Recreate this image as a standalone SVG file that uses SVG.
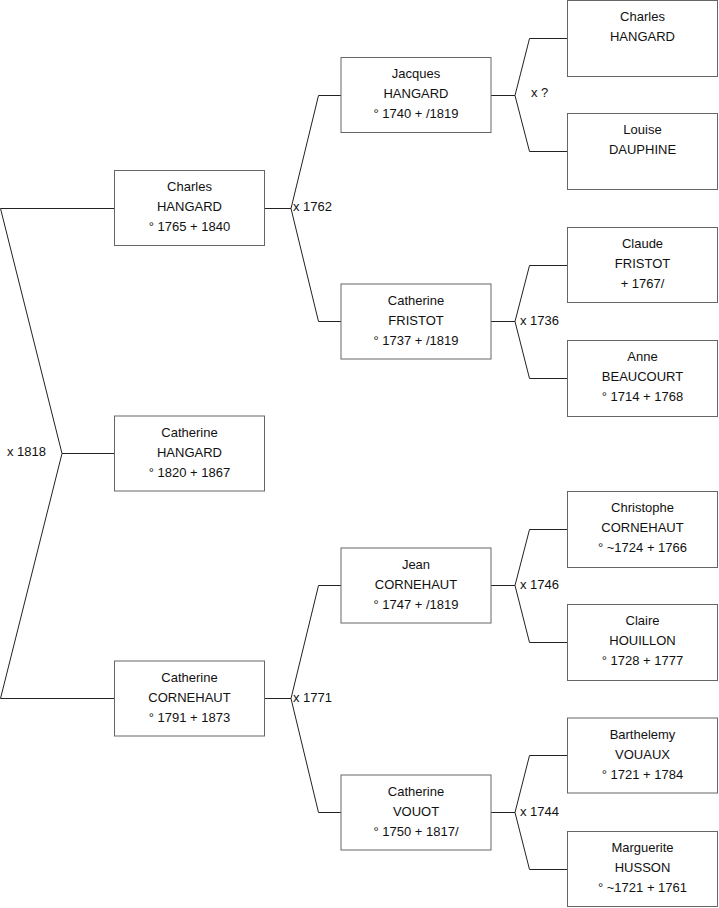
<svg xmlns="http://www.w3.org/2000/svg" width="719" height="908" viewBox="0 0 719 908">
<style>
.box{fill:#fff;stroke:#666;stroke-width:1}
.t{font-family:"Liberation Sans",Arial,sans-serif;font-size:13px;fill:#111;text-anchor:middle}
.l{font-family:"Liberation Sans",Arial,sans-serif;font-size:13px;fill:#111}
.c{fill:none;stroke:#222;stroke-width:1}
</style>
<rect width="719" height="908" fill="#fff"/>
<g id="connectors">
<path class="c" d="M114.5,208.5H0.5L62,453.5L0.5,698.5H114.5M62,453.5H114.5"/>
<path class="c" d="M264.5,208.5H291L318.5,95.5H341M291,208.5L318.5,321.5H341"/>
<path class="c" d="M264.5,698.5H291L318.5,585.5H341M291,698.5L318.5,812.5H341"/>
<path class="c" d="M491,95.5H515L529.5,38.5H567M515,95.5L529.5,151.5H567"/>
<path class="c" d="M491,321.5H515L529.5,265.5H567M515,321.5L529.5,378.5H567"/>
<path class="c" d="M491,585.5H515L529.5,529.5H567M515,585.5L529.5,642.5H567"/>
<path class="c" d="M491,812.5H515L529.5,755.5H567M515,812.5L529.5,869.5H567"/>
<text class="l" x="7" y="456">x 1818</text>
<text class="l" x="293" y="211">x 1762</text>
<text class="l" x="293" y="702">x 1771</text>
<text class="l" x="531" y="97">x ?</text>
<text class="l" x="520" y="324.5">x 1736</text>
<text class="l" x="520" y="589">x 1746</text>
<text class="l" x="520" y="815.5">x 1744</text>
</g>
<g id="n-charles-1">
<rect class="box" x="114.5" y="170.5" width="150" height="75"/>
<text class="t" x="189.5" y="191">Charles</text><text class="t" x="189.5" y="211">HANGARD</text><text class="t" x="189.5" y="231">° 1765 + 1840</text>
</g>
<g id="n-catherine-hangard">
<rect class="box" x="114.5" y="416" width="150" height="75"/>
<text class="t" x="189.5" y="436.5">Catherine</text><text class="t" x="189.5" y="456.5">HANGARD</text><text class="t" x="189.5" y="476.5">° 1820 + 1867</text>
</g>
<g id="n-catherine-cornehaut">
<rect class="box" x="114.5" y="661" width="150" height="75"/>
<text class="t" x="189.5" y="681.5">Catherine</text><text class="t" x="189.5" y="701.5">CORNEHAUT</text><text class="t" x="189.5" y="721.5">° 1791 + 1873</text>
</g>
<g id="n-jacques">
<rect class="box" x="341" y="57.5" width="150" height="75"/>
<text class="t" x="416" y="78">Jacques</text><text class="t" x="416" y="98">HANGARD</text><text class="t" x="416" y="118">° 1740 + /1819</text>
</g>
<g id="n-catherine-fristot">
<rect class="box" x="341" y="284" width="150" height="75"/>
<text class="t" x="416" y="304.5">Catherine</text><text class="t" x="416" y="324.5">FRISTOT</text><text class="t" x="416" y="344.5">° 1737 + /1819</text>
</g>
<g id="n-jean">
<rect class="box" x="341" y="548" width="150" height="75"/>
<text class="t" x="416" y="568.5">Jean</text><text class="t" x="416" y="588.5">CORNEHAUT</text><text class="t" x="416" y="608.5">° 1747 + /1819</text>
</g>
<g id="n-catherine-vouot">
<rect class="box" x="341" y="775" width="150" height="75"/>
<text class="t" x="416" y="795.5">Catherine</text><text class="t" x="416" y="815.5">VOUOT</text><text class="t" x="416" y="835.5">° 1750 + 1817/</text>
</g>
<g id="n-charles-3">
<rect class="box" x="567.5" y="0.5" width="150" height="76"/>
<text class="t" x="642.5" y="20.5">Charles</text><text class="t" x="642.5" y="40.5">HANGARD</text>
</g>
<g id="n-louise">
<rect class="box" x="567.5" y="113.5" width="150" height="76"/>
<text class="t" x="642.5" y="133.5">Louise</text><text class="t" x="642.5" y="153.5">DAUPHINE</text>
</g>
<g id="n-claude">
<rect class="box" x="567.5" y="227.5" width="150" height="75"/>
<text class="t" x="642.5" y="247.5">Claude</text><text class="t" x="642.5" y="267.5">FRISTOT</text><text class="t" x="642.5" y="287.5">+ 1767/</text>
</g>
<g id="n-anne">
<rect class="box" x="567.5" y="340.5" width="150" height="76"/>
<text class="t" x="642.5" y="360.5">Anne</text><text class="t" x="642.5" y="380.5">BEAUCOURT</text><text class="t" x="642.5" y="400.5">° 1714 + 1768</text>
</g>
<g id="n-christophe">
<rect class="box" x="567.5" y="491.5" width="150" height="76"/>
<text class="t" x="642.5" y="511.5">Christophe</text><text class="t" x="642.5" y="531.5">CORNEHAUT</text><text class="t" x="642.5" y="551.5">° ~1724 + 1766</text>
</g>
<g id="n-claire">
<rect class="box" x="567.5" y="604.5" width="150" height="76"/>
<text class="t" x="642.5" y="624.5">Claire</text><text class="t" x="642.5" y="644.5">HOUILLON</text><text class="t" x="642.5" y="664.5">° 1728 + 1777</text>
</g>
<g id="n-barthelemy">
<rect class="box" x="567.5" y="718" width="150" height="75"/>
<text class="t" x="642.5" y="738.5">Barthelemy</text><text class="t" x="642.5" y="758.5">VOUAUX</text><text class="t" x="642.5" y="778.5">° 1721 + 1784</text>
</g>
<g id="n-marguerite">
<rect class="box" x="567.5" y="831.5" width="150" height="75"/>
<text class="t" x="642.5" y="852">Marguerite</text><text class="t" x="642.5" y="872">HUSSON</text><text class="t" x="642.5" y="892">° ~1721 + 1761</text>
</g>
</svg>
